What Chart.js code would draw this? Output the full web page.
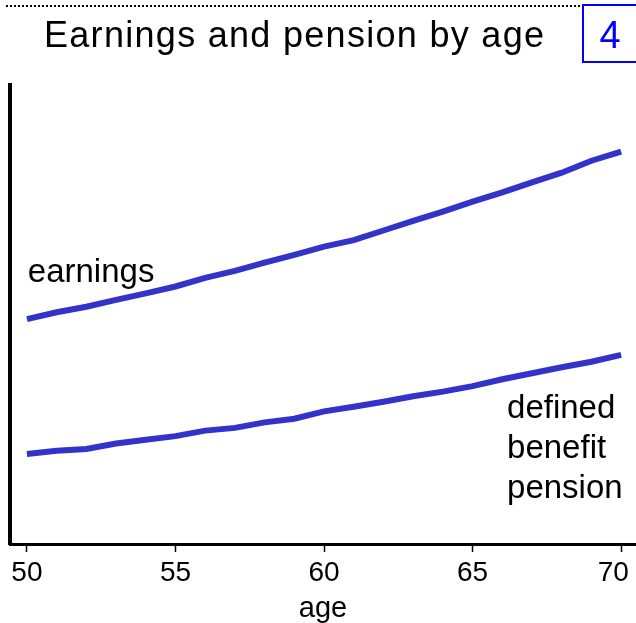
<!DOCTYPE html>
<html>
<head>
<meta charset="utf-8">
<script src="https://cdn.jsdelivr.net/npm/chart.js@4.4.1/dist/chart.umd.min.js"></script>
<style>
  html, body { margin: 0; padding: 0; background: #fff; }
  #wrap { width: 636px; height: 623px; }
</style>
</head>
<body>
<div id="wrap"><canvas id="chart" width="636" height="623"></canvas></div>
<script>
// values (y in arbitrary units, 0 = bottom axis)
var ages = [50, 51, 52, 53, 54, 55, 56, 57, 58, 59, 60, 61, 62, 63, 64, 65, 66, 67, 68, 69, 70];
var earnings = [49.0, 50.5, 51.7, 53.2, 54.6, 56.1, 58.0, 59.5, 61.3, 63.0, 64.8, 66.2, 68.3, 70.4, 72.4, 74.6, 76.6, 78.8, 80.9, 83.5, 85.5];
var pension = [19.6, 20.3, 20.7, 21.9, 22.7, 23.5, 24.7, 25.3, 26.5, 27.3, 28.9, 29.9, 31.0, 32.2, 33.2, 34.4, 35.9, 37.2, 38.5, 39.7, 41.2];
var xTicks = [50, 55, 60, 65, 70];

var titleText = 'Earnings and pension by age';
var panelNo = '4';
var earningsLabel = ['earnings'];
var pensionLabel = ['defined', 'benefit', 'pension'];

var FONT = '"Liberation Sans", Arial, Helvetica, sans-serif';
var LINE = '#3333cc';

function pts(ys) {
    return ages.map(function (a, i) { return { x: a, y: ys[i] }; });
}

var decor = {
    id: 'decor',
    afterDraw: function (chart) {
        var ctx = chart.ctx;
        var xs = chart.scales.x, ys = chart.scales.y;
        ctx.save();

        // dotted rule along the top
        ctx.strokeStyle = '#000';
        ctx.lineWidth = 2;
        ctx.setLineDash([2, 2]);
        ctx.beginPath();
        ctx.moveTo(6, 6);
        ctx.lineTo(582, 6);
        ctx.stroke();
        ctx.setLineDash([]);

        // title
        ctx.fillStyle = '#000';
        ctx.font = '36px ' + FONT;
        ctx.textBaseline = 'alphabetic';
        ctx.textAlign = 'left';
        var w = ctx.measureText(titleText).width;
        ctx.letterSpacing = ((500 - w) / (titleText.length - 1)) + 'px';
        ctx.fillText(titleText, 44, 47);
        ctx.letterSpacing = '0px';

        // panel number box
        ctx.strokeStyle = '#0000ff';
        ctx.lineWidth = 2;
        ctx.strokeRect(583, 5, 60, 57);
        ctx.fillStyle = '#0000ff';
        ctx.font = '38px ' + FONT;
        ctx.textAlign = 'center';
        ctx.fillText(panelNo, 610, 48);

        // series labels
        ctx.fillStyle = '#000';
        ctx.font = '33px ' + FONT;
        ctx.textAlign = 'left';
        var ex = xs.getPixelForValue(50.03), ey = ys.getPixelForValue(57.1);
        earningsLabel.forEach(function (t, i) { ctx.fillText(t, ex, ey + i * 40); });
        var px = xs.getPixelForValue(66.16), py = ys.getPixelForValue(27.4);
        pensionLabel.forEach(function (t, i) { ctx.fillText(t, px, py + i * 40); });

        ctx.restore();
    }
};

new Chart(document.getElementById('chart').getContext('2d'), {
    type: 'line',
    data: {
        datasets: [{
            label: 'earnings',
            data: pts(earnings),
            borderColor: LINE,
            borderWidth: 6,
            pointRadius: 0,
            tension: 0
        }, {
            label: 'defined benefit pension',
            data: pts(pension),
            borderColor: LINE,
            borderWidth: 6,
            pointRadius: 0,
            tension: 0
        }]
    },
    options: {
        responsive: false,
        animation: false,
        layout: { padding: { top: 85, left: 10, right: 0, bottom: 0 } },
        plugins: {
            legend: { display: false },
            title: { display: false },
            tooltip: { enabled: false }
        },
        scales: {
            x: {
                type: 'linear',
                min: 49.43,
                max: 70.5,
                afterBuildTicks: function (axis) {
                    axis.ticks = xTicks.map(function (v) { return { value: v }; });
                },
                afterFit: function (axis) {
                    axis.height = 79;
                    axis.paddingLeft = 0;
                    axis.paddingRight = 0;
                },
                border: { display: true, color: '#000', width: 3 },
                grid: {
                    drawOnChartArea: false,
                    drawTicks: true,
                    tickLength: 8,
                    tickWidth: 1.5,
                    tickColor: '#000'
                },
                ticks: {
                    color: '#000',
                    font: { family: FONT, size: 28 },
                    padding: 4,
                    maxRotation: 0,
                    // last label sits a little left of its tick, inside the frame
                    callback: function (v, i, arr) {
                        return i === arr.length - 1 ? v + '  ' : String(v);
                    }
                },
                title: {
                    display: true,
                    text: 'age',
                    color: '#000',
                    font: { family: FONT, size: 29, lineHeight: 1.0 },
                    padding: { top: 0, bottom: 0 }
                }
            },
            y: {
                min: 0,
                max: 100,
                afterFit: function (axis) {
                    axis.width = 0;
                    axis.paddingTop = 0;
                    axis.paddingBottom = 0;
                },
                border: { display: true, color: '#000', width: 4 },
                grid: { display: false },
                ticks: { display: false }
            }
        }
    },
    plugins: [decor]
});
</script>
</body>
</html>
